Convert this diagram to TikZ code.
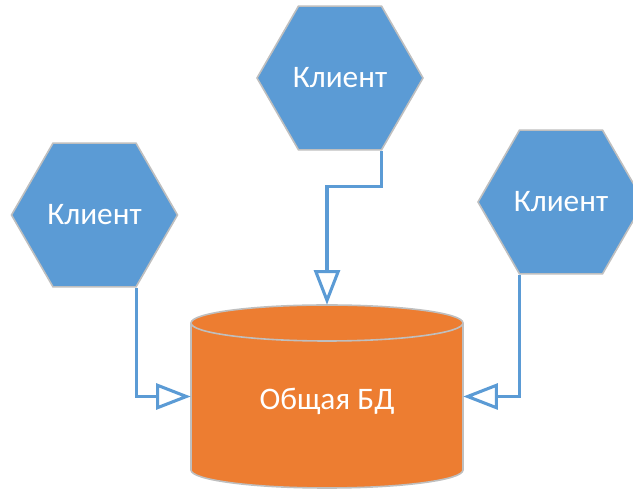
\documentclass[tikz,border=0pt]{standalone}
\usepackage{fontspec}
\setmainfont{Carlito}
\usetikzlibrary{shapes.geometric,arrows.meta}
\definecolor{hexblue}{RGB}{91,155,213}
\definecolor{dborange}{RGB}{237,125,49}
\definecolor{rimgray}{RGB}{191,191,191}
\begin{document}
\begin{tikzpicture}[x=0.75pt,y=0.75pt,yscale=-1,xscale=1,
  client/.style={regular polygon, regular polygon sides=6, minimum size=124.5pt, inner sep=0pt, fill=hexblue, draw=rimgray, line width=1.2pt, text=white, font=\fontsize{23.5}{28}\selectfont},
  dbtext/.style={rectangle, minimum width=204pt, minimum height=137.25pt, inner sep=0pt, text=white, text height=25pt, text depth=5pt, font=\fontsize{23.5}{28}\selectfont},
  link/.style={draw=hexblue, line width=2.3pt, -{Triangle[length=26pt, width=19.5pt, fill=white]}}]
\useasboundingbox (0,0) rectangle (633,491);
\clip (0,0) rectangle (633,491);
\node[client] (hexT) at (340,78) {Клиент};
\node[client] (hexL) at (94.5,215) {Клиент};
\node[client] (hexR) at (561,202) {Клиент};
% cylinder
\draw [fill=dborange, draw=rimgray, line width=1.2pt] (191,323) -- (191,470) arc[start angle=180, end angle=0, x radius=136, y radius=18] -- (463,323) arc[start angle=360, end angle=180, x radius=136, y radius=18] -- cycle ;
\draw [draw=rimgray, line width=1.2pt] (191,323) arc[start angle=180, end angle=0, x radius=136, y radius=18] ;
\node[dbtext] (db) at (327,396.5) {Общая БД};
\draw[link] (hexT.-60) -- ++(0,36) -| (db.north);
\draw[link] (hexL.-60) |- (db.west);
\draw[link] (hexR.-120) |- (db.east);
\end{tikzpicture}
\end{document}
